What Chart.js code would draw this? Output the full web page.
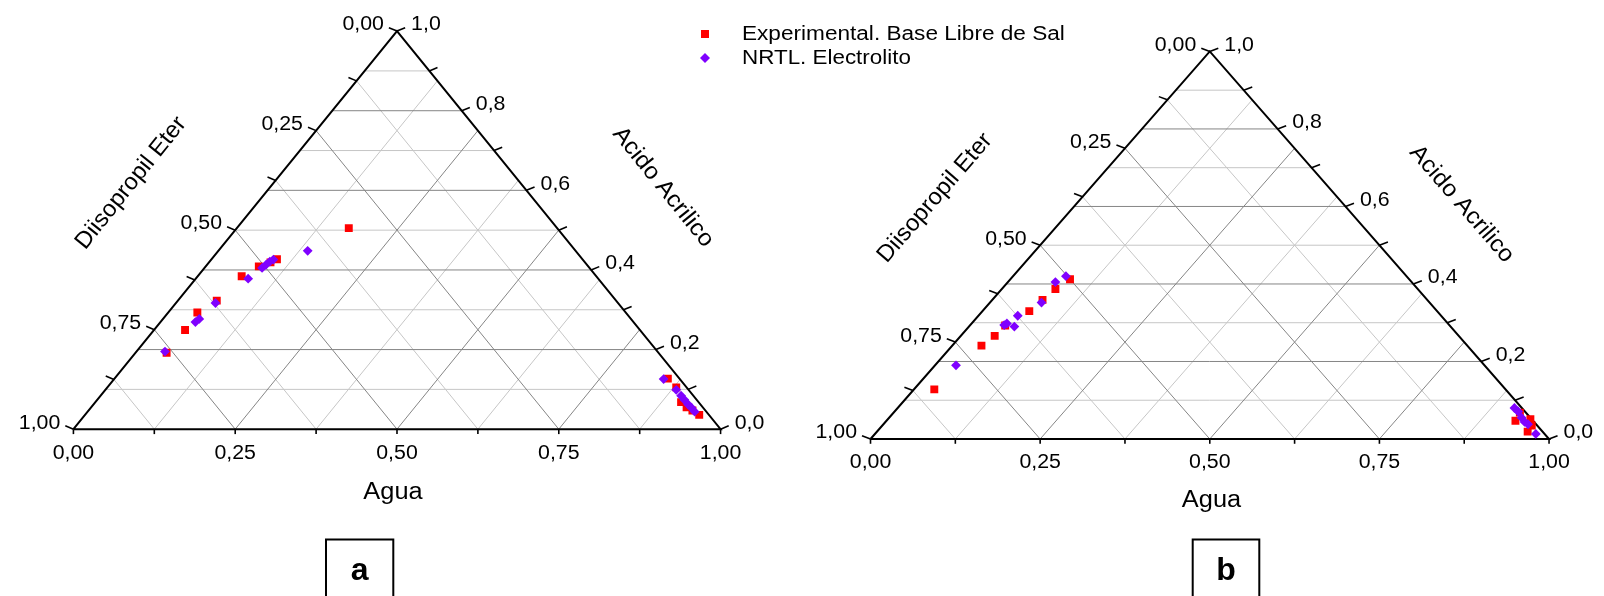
<!DOCTYPE html>
<html><head><meta charset="utf-8">
<script src="https://cdn.jsdelivr.net/npm/chart.js@4.4.1/dist/chart.umd.min.js"></script>
<style>html,body{margin:0;padding:0;background:#fff;overflow:hidden}canvas{display:block}</style>
</head><body>
<canvas id="c" width="1604" height="596" style="width:1604px;height:596px"></canvas>
<script>
// ---- Data (mole fractions: Agua, Acido Acrilico; Diisopropil Eter = 1 - Agua - Acido) ----
const seriesNames = ["Experimental. Base Libre de Sal", "NRTL. Electrolito"];
// Panel a
const aguaExpA  = [0.173,0.082,0.095,0.101,0.068,0.060,0.045,0.048,0.048, 0.855,0.879,0.905,0.920,0.933,0.949];
const acidoExpA = [0.505,0.409,0.419,0.427,0.384,0.323,0.293,0.249,0.192, 0.127,0.105,0.068,0.055,0.047,0.036];
const aguaNrtlA  = [0.138,0.096,0.093,0.091,0.089,0.081,0.061,0.056,0.054,0.044, 0.849,0.882,0.897,0.907,0.919,0.928,0.938];
const acidoNrtlA = [0.448,0.426,0.421,0.413,0.405,0.378,0.317,0.277,0.269,0.195, 0.126,0.099,0.084,0.074,0.062,0.054,0.044];
// Panel b
const aguaExpB  = [0.088,0.079,0.074,0.069,0.052,0.050,0.043,0.030, 0.923,0.927,0.947,0.957,0.959];
const acidoExpB = [0.412,0.387,0.359,0.330,0.293,0.266,0.241,0.128, 0.068,0.047,0.051,0.035,0.019];
const aguaNrtlB  = [0.078,0.070,0.076,0.058,0.052,0.050,0.067,0.031, 0.909,0.919,0.932,0.942,0.950,0.974];
const acidoNrtlB = [0.420,0.405,0.352,0.318,0.298,0.294,0.290,0.190, 0.080,0.071,0.055,0.044,0.038,0.013];

// ---- Axis ticks ----
const eterTickValues  = [0, 0.25, 0.5, 0.75, 1];
const eterTickLabels  = ["0,00", "0,25", "0,50", "0,75", "1,00"];
const eterMinorTicks  = [0.125, 0.375, 0.625, 0.875];
const aguaTickValues  = [0, 0.25, 0.5, 0.75, 1];
const aguaTickLabels  = ["0,00", "0,25", "0,50", "0,75", "1,00"];
const aguaMinorTicks  = [0.125, 0.375, 0.625, 0.875];
const acidoTickValues = [0, 0.2, 0.4, 0.6, 0.8, 1];
const acidoTickLabels = ["0,0", "0,2", "0,4", "0,6", "0,8", "1,0"];
const acidoMinorTicks = [0.1, 0.3, 0.5, 0.7, 0.9];
// grid
const acidoGridMajor = [0.2, 0.4, 0.6, 0.8];
const acidoGridMinor = [0.1, 0.3, 0.5, 0.7, 0.9];
const aguaGridMajor = [0.25, 0.5, 0.75];
const aguaGridMinor = [0.125, 0.375, 0.625, 0.875];
const eterGridMajor = [0.25, 0.5, 0.75];
const eterGridMinor = [0.125, 0.375, 0.625, 0.875];

const axisTitles = {agua: "Agua", eter: "Diisopropil Eter", acido: "Acido Acrilico"};
const panelLabels = ["a", "b"];

// ---- Style / layout ----
const RED = "#ff0000", PURPLE = "#7f00ff";
const GRID_MAJOR = "#858585", GRID_MINOR = "#c6c6c6";
const FONT = "'Liberation Sans', Arial, Helvetica, sans-serif";
const panels = [
  {x: "xa", y: "ya", xmin: -0.10480, xmax: 2.35645, ymin: -0.40498, ymax: 1.06409,
   aguaTitle: [393, 499], eterTitle: [131, 183, -51.2], acidoTitle: [663, 187, 51.2],
   box: [326, 539.5, 67.3], label: [359.7, 580]},
  {x: "xb", y: "yb", xmin: -1.27470, xmax: 1.07274, ymin: -0.39063, ymax: 1.11823,
   aguaTitle: [1211.5, 507], eterTitle: [935, 198, -49.2], acidoTitle: [1461.7, 204, 49.2],
   box: [1192.7, 539.5, 66.6], label: [1226, 580]}
];
const S3 = Math.sqrt(3) / 2;
const LS = 0.0145, LB = 0.0107; // tick lengths (equilateral units)

function toXY(w, a) { return {x: w + a / 2, y: a}; }
function pts(ws, as) { return ws.map((w, i) => toXY(w, as[i])); }

function seg(p1, p2, color, width, xid, yid, order) {
  return {type: "scatter", data: [p1, p2], showLine: true, borderColor: color, borderWidth: width,
          pointRadius: 0, pointHoverRadius: 0, xAxisID: xid, yAxisID: yid, order: order, fill: false, clip: false};
}

const datasets = [];
const seriesData = [
  [pts(aguaExpA, acidoExpA), pts(aguaNrtlA, acidoNrtlA)],
  [pts(aguaExpB, acidoExpB), pts(aguaNrtlB, acidoNrtlB)]
];
panels.forEach((p, pi) => {
  datasets.push({type: "scatter", label: seriesNames[1], data: seriesData[pi][1], xAxisID: p.x, yAxisID: p.y,
    pointStyle: "rectRot", pointRadius: 4.9, pointHoverRadius: 4.9, backgroundColor: PURPLE, borderColor: PURPLE, borderWidth: 0, order: 0});
  datasets.push({type: "scatter", label: seriesNames[0], data: seriesData[pi][0], xAxisID: p.x, yAxisID: p.y,
    pointStyle: "rect", pointRadius: 5.6, pointHoverRadius: 5.6, backgroundColor: RED, borderColor: RED, borderWidth: 0, order: 1});
  // triangle frame
  datasets.push({type: "scatter", data: [toXY(0,0), toXY(1,0), toXY(0,1), toXY(0,0)], showLine: true,
    borderColor: "#000", borderWidth: 2, pointRadius: 0, xAxisID: p.x, yAxisID: p.y, order: 2, clip: false, borderJoinStyle: "miter"});
  const grid = (vals, color, ord) => {
    vals.forEach(v => datasets.push(seg(toXY(0, v), toXY(1 - v, v), color, 1, p.x, p.y, ord)));
  };
  const gridW = (vals, color, ord) => {
    vals.forEach(v => datasets.push(seg(toXY(v, 0), toXY(v, 1 - v), color, 1, p.x, p.y, ord)));
  };
  const gridE = (vals, color, ord) => {
    vals.forEach(e => datasets.push(seg(toXY(0, 1 - e), toXY(1 - e, 0), color, 1, p.x, p.y, ord)));
  };
  grid(acidoGridMinor, GRID_MINOR, 4); gridW(aguaGridMinor, GRID_MINOR, 4); gridE(eterGridMinor, GRID_MINOR, 4);
  grid(acidoGridMajor, GRID_MAJOR, 3); gridW(aguaGridMajor, GRID_MAJOR, 3); gridE(eterGridMajor, GRID_MAJOR, 3);
});

function txt(ctx, s, x, y, o) {
  o = o || {};
  ctx.save();
  ctx.translate(x, y);
  if (o.rot) ctx.rotate(o.rot * Math.PI / 180);
  ctx.scale(o.sx || 1, 1);
  ctx.font = (o.bold ? "bold " : "") + (o.size || 20) + "px " + FONT;
  ctx.fillStyle = "#000";
  ctx.textAlign = o.align || "left";
  ctx.textBaseline = o.base || "middle";
  ctx.fillText(s, 0, 0);
  ctx.restore();
}

const decor = {
  id: "ternaryDecor",
  afterDatasetsDraw(chart) {
    const ctx = chart.ctx;
    panels.forEach(p => {
      const xs = chart.scales[p.x], ys = chart.scales[p.y];
      const px = (d) => [xs.getPixelForValue(d.x), ys.getPixelForValue(d.y)];
      ctx.save();
      ctx.strokeStyle = "#000"; ctx.lineWidth = 1.6;
      const tick = (b, e) => { const A = px(b), B = px(e); ctx.beginPath(); ctx.moveTo(A[0], A[1]); ctx.lineTo(B[0], B[1]); ctx.stroke(); return B; };
      const leftTick = (e) => { const b = toXY(0, 1 - e); return tick(b, {x: b.x - S3 * LS, y: b.y + 0.5 * LS / S3}); };
      const rightTick = (v) => { const b = toXY(1 - v, v); return tick(b, {x: b.x + S3 * LS, y: b.y + 0.5 * LS / S3}); };
      const botTick = (w) => { const b = toXY(w, 0); return tick(b, {x: b.x, y: b.y - LB / S3}); };
      eterMinorTicks.forEach(leftTick); acidoMinorTicks.forEach(rightTick); aguaMinorTicks.forEach(botTick);
      eterTickValues.forEach((v, i) => { const E = leftTick(v); txt(ctx, eterTickLabels[i], E[0] - 5, E[1] - 3, {size: 20.5, align: "right", sx: 1.04}); });
      acidoTickValues.forEach((v, i) => { const E = rightTick(v); txt(ctx, acidoTickLabels[i], E[0] + 6, E[1] - 3, {size: 20.5, align: "left", sx: 1.04}); });
      aguaTickValues.forEach((v, i) => { const E = botTick(v); txt(ctx, aguaTickLabels[i], E[0], E[1] + 19, {size: 20.5, align: "center", sx: 1.04}); });
      ctx.restore();
      // titles
      txt(ctx, axisTitles.agua, p.aguaTitle[0], p.aguaTitle[1], {size: 23.5, align: "center", base: "alphabetic", sx: 1.08});
      txt(ctx, axisTitles.eter, p.eterTitle[0], p.eterTitle[1], {size: 23.5, align: "center", rot: p.eterTitle[2], sx: 1.02});
      txt(ctx, axisTitles.acido, p.acidoTitle[0], p.acidoTitle[1], {size: 23.5, align: "center", rot: p.acidoTitle[2], sx: 1.04});
      // panel label box
      ctx.save(); ctx.strokeStyle = "#000"; ctx.lineWidth = 2;
      ctx.beginPath(); ctx.moveTo(p.box[0], 600); ctx.lineTo(p.box[0], p.box[1]); ctx.lineTo(p.box[0] + p.box[2], p.box[1]); ctx.lineTo(p.box[0] + p.box[2], 600); ctx.stroke();
      ctx.restore();
    });
    txt(ctx, panelLabels[0], panels[0].label[0], panels[0].label[1], {size: 32, bold: true, align: "center", base: "alphabetic"});
    txt(ctx, panelLabels[1], panels[1].label[0], panels[1].label[1], {size: 32, bold: true, align: "center", base: "alphabetic"});
    // legend
    ctx.save();
    ctx.fillStyle = RED; ctx.fillRect(705 - 4, 34 - 4, 8, 8);
    ctx.fillStyle = PURPLE; ctx.beginPath(); ctx.moveTo(705 - 5, 58); ctx.lineTo(705, 58 - 5); ctx.lineTo(705 + 5, 58); ctx.lineTo(705, 58 + 5); ctx.closePath(); ctx.fill();
    ctx.restore();
    txt(ctx, seriesNames[0], 742, 34, {size: 20, sx: 1.13});
    txt(ctx, seriesNames[1], 742, 58, {size: 20, sx: 1.12});
  }
};

const scales = {};
panels.forEach(p => {
  scales[p.x] = {type: "linear", display: false, min: p.xmin, max: p.xmax};
  scales[p.y] = {type: "linear", display: false, min: p.ymin, max: p.ymax};
});

new Chart(document.getElementById("c"), {
  type: "scatter",
  data: {datasets: datasets},
  options: {
    responsive: false, maintainAspectRatio: false, animation: false, events: [],
    layout: {padding: 0},
    scales: scales,
    plugins: {legend: {display: false}, tooltip: {enabled: false}}
  },
  plugins: [decor]
});
</script>
</body></html>
